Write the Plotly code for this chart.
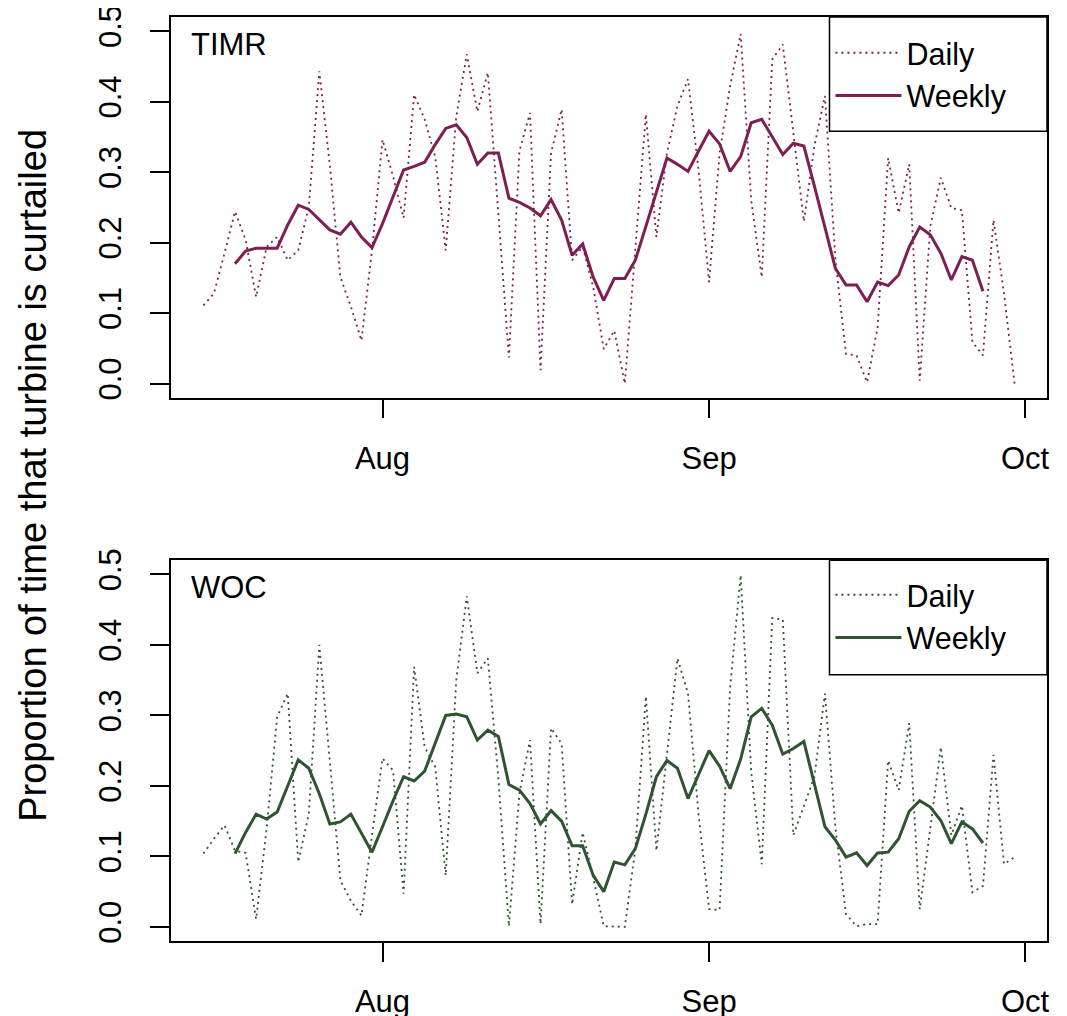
import pandas as pd
import plotly.graph_objects as go
from plotly.subplots import make_subplots

# ---- data ----
daily_dates = pd.date_range("2016-07-15", "2016-09-30", freq="D")
weekly_dates = pd.date_range("2016-07-18", "2016-09-27", freq="D")

timr_daily = [0.111, 0.128, 0.185, 0.244, 0.204, 0.123, 0.194, 0.208, 0.175, 0.189,
              0.25, 0.443, 0.31, 0.151, 0.109, 0.061, 0.189, 0.346, 0.294, 0.235,
              0.410, 0.375, 0.322, 0.189, 0.379, 0.467, 0.386, 0.441, 0.24, 0.037,
              0.33, 0.384, 0.019, 0.327, 0.389, 0.175, 0.194, 0.137, 0.049, 0.075,
              0.0, 0.185, 0.382, 0.208, 0.327, 0.394, 0.432, 0.303, 0.144, 0.327,
              0.422, 0.496, 0.26, 0.151, 0.46, 0.481, 0.356, 0.230, 0.337, 0.408,
              0.175, 0.042, 0.040, 0.002, 0.080, 0.320, 0.242, 0.311, 0.004, 0.223,
              0.292, 0.249, 0.246, 0.059, 0.040, 0.232, 0.128, 0.0]

timr_weekly = [0.170, 0.188, 0.192, 0.192, 0.192, 0.225, 0.253, 0.247, 0.232, 0.218,
               0.212, 0.229, 0.208, 0.193, 0.227, 0.265, 0.303, 0.308, 0.314, 0.339,
               0.362, 0.367, 0.349, 0.311, 0.327, 0.327, 0.263, 0.257, 0.249, 0.238,
               0.261, 0.232, 0.182, 0.198, 0.151, 0.118, 0.149, 0.149, 0.175, 0.223,
               0.270, 0.320, 0.311, 0.301, 0.330, 0.358, 0.340, 0.301, 0.322, 0.370,
               0.375, 0.349, 0.325, 0.341, 0.337, 0.280, 0.223, 0.163, 0.140, 0.140,
               0.116, 0.144, 0.139, 0.154, 0.194, 0.222, 0.211, 0.185, 0.147, 0.180,
               0.175, 0.131]

woc_daily = [0.104, 0.125, 0.144, 0.108, 0.105, 0.011, 0.14, 0.298, 0.331, 0.092,
             0.16, 0.400, 0.235, 0.066, 0.037, 0.016, 0.13, 0.239, 0.222, 0.047,
             0.369, 0.255, 0.227, 0.073, 0.35, 0.469, 0.360, 0.381, 0.21, 0.001,
             0.19, 0.265, 0.004, 0.282, 0.260, 0.032, 0.134, 0.070, 0.001, 0.001,
             0.0, 0.11, 0.327, 0.108, 0.24, 0.381, 0.331, 0.16, 0.025, 0.024,
             0.34, 0.499, 0.22, 0.089, 0.438, 0.436, 0.130, 0.170, 0.213, 0.331,
             0.14, 0.018, 0.001, 0.004, 0.004, 0.236, 0.194, 0.289, 0.025, 0.14,
             0.255, 0.13, 0.172, 0.049, 0.058, 0.244, 0.089, 0.099]

woc_weekly = [0.104, 0.134, 0.160, 0.153, 0.163, 0.200, 0.237, 0.225, 0.189, 0.146,
              0.149, 0.160, 0.134, 0.106, 0.142, 0.179, 0.213, 0.207, 0.221, 0.260,
              0.300, 0.302, 0.298, 0.265, 0.279, 0.270, 0.202, 0.194, 0.175, 0.146,
              0.165, 0.150, 0.115, 0.115, 0.073, 0.050, 0.092, 0.088, 0.111, 0.160,
              0.213, 0.236, 0.225, 0.182, 0.217, 0.250, 0.228, 0.196, 0.238, 0.298,
              0.310, 0.286, 0.245, 0.253, 0.263, 0.201, 0.142, 0.123, 0.099, 0.105,
              0.087, 0.105, 0.106, 0.125, 0.164, 0.179, 0.170, 0.151, 0.118, 0.149,
              0.139, 0.119]

panel_labels = ["TIMR", "WOC"]
series_names = ["Daily", "Weekly"]
colors = ["#7e1f53", "#2f5530"]
y_ticks = [0.0, 0.1, 0.2, 0.3, 0.4, 0.5]
x_tick_dates = ["2016-08-01", "2016-09-01", "2016-10-01"]
x_tick_labels = ["Aug", "Sep", "Oct"]
y_title = "Proportion of time that turbine is curtailed"

FONT = "Liberation Sans, Arial, Helvetica, sans-serif"

fig = make_subplots(rows=2, cols=1, vertical_spacing=0.176)

panels = [(timr_daily, timr_weekly), (woc_daily, woc_weekly)]
for i, (dly, wk) in enumerate(panels):
    row = i + 1
    leg = "legend" if i == 0 else "legend2"
    fig.add_trace(go.Scatter(x=daily_dates, y=dly, mode="lines", name=series_names[0],
                             line=dict(color=colors[i], width=1.8, dash="2px,4px"),
                             legend=leg), row=row, col=1)
    fig.add_trace(go.Scatter(x=weekly_dates, y=wk, mode="lines", name=series_names[1],
                             line=dict(color=colors[i], width=3),
                             legend=leg), row=row, col=1)

axis_common = dict(showline=True, linecolor="black", linewidth=1.5, mirror=True,
                   showgrid=False, zeroline=False, ticks="outside", ticklen=19,
                   tickwidth=1.5, tickcolor="black", automargin=False,
                   ticklabeloverflow="allow",
                   tickfont=dict(family=FONT, size=31, color="black"))

for r in (1, 2):
    fig.update_xaxes(type="date",
                     range=["2016-07-11 22:05", "2016-10-03 01:55"],
                     tickvals=x_tick_dates, ticktext=x_tick_labels,
                     ticklabelstandoff=13, row=r, col=1, **axis_common)
    fig.update_yaxes(range=[-0.02, 0.52], tickvals=y_ticks,
                     ticktext=[f"{v:.1f}" for v in y_ticks], tickangle=-90,
                     ticklabelstandoff=17, row=r, col=1, **axis_common)

fig.update_layout(yaxis=dict(domain=[0.588, 1.0]), yaxis2=dict(domain=[0.0, 0.412]))

# legend boxes (white, opaque, framed) in each panel's top-right corner
for i in range(2):
    xr = "x domain" if i == 0 else "x2 domain"
    yr = "y domain" if i == 0 else "y2 domain"
    fig.add_shape(type="rect", xref=xr, yref=yr, x0=0.7517, x1=1.0, y0=0.6997, y1=1.0,
                  fillcolor="white", line=dict(color="black", width=1.5), layer="above")

legend_common = dict(bgcolor="rgba(0,0,0,0)", borderwidth=0,
                     font=dict(family=FONT, size=30.5, color="black"),
                     xanchor="left", yanchor="top", x=0.7528, itemwidth=66,
                     tracegroupgap=0)
fig.update_layout(legend=dict(y=0.9898, **legend_common),
                  legend2=dict(y=0.4032, **legend_common))

for i, lab in enumerate(panel_labels):
    xr = "x domain" if i == 0 else "x2 domain"
    yr = "y domain" if i == 0 else "y2 domain"
    fig.add_annotation(text=lab, xref=xr, yref=yr, x=0.021, y=0.928,
                       xanchor="left", yanchor="middle", showarrow=False,
                       font=dict(family=FONT, size=31, color="black"))

fig.add_annotation(text=y_title, xref="paper", yref="paper", x=-0.157, y=0.504,
                   xanchor="center", yanchor="middle", textangle=-90, showarrow=False,
                   font=dict(family=FONT, size=38, color="black"))

# the page body adds an 8px offset; size the figure so it fits the 1067x1016 window
fig.update_layout(width=1059, height=1008, paper_bgcolor="white", plot_bgcolor="white",
                  margin=dict(l=163, r=20.2, t=8.7, b=75.4), showlegend=True)

fig.write_html("out.html")
